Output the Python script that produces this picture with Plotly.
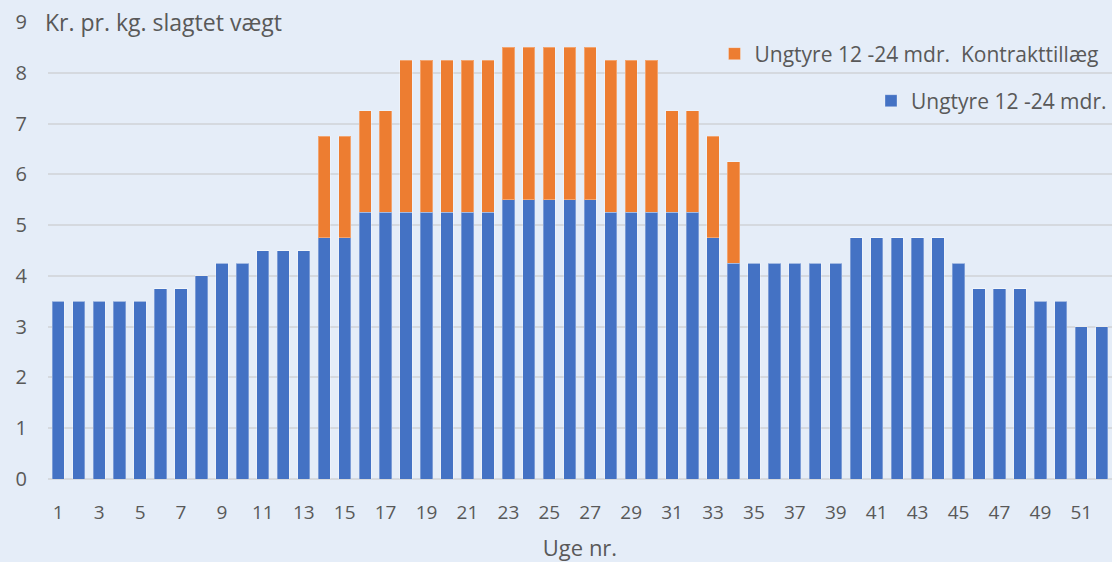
import plotly.graph_objects as go

weeks = list(range(1, 53))
blue_values = [3.5, 3.5, 3.5, 3.5, 3.5, 3.75, 3.75, 4.0, 4.25, 4.25,
               4.5, 4.5, 4.5, 4.75, 4.75, 5.25, 5.25, 5.25, 5.25, 5.25,
               5.25, 5.25, 5.5, 5.5, 5.5, 5.5, 5.5, 5.25, 5.25, 5.25,
               5.25, 5.25, 4.75, 4.25, 4.25, 4.25, 4.25, 4.25, 4.25, 4.75,
               4.75, 4.75, 4.75, 4.75, 4.25, 3.75, 3.75, 3.75, 3.5, 3.5,
               3.0, 3.0]
orange_values = [0, 0, 0, 0, 0, 0, 0, 0, 0, 0,
                 0, 0, 0, 2.0, 2.0, 2.0, 2.0, 3.0, 3.0, 3.0,
                 3.0, 3.0, 3.0, 3.0, 3.0, 3.0, 3.0, 3.0, 3.0, 3.0,
                 2.0, 2.0, 2.0, 2.0, 0, 0, 0, 0, 0, 0,
                 0, 0, 0, 0, 0, 0, 0, 0, 0, 0,
                 0, 0]
x_ticks = list(range(1, 53, 2))
x_tick_labels = [str(v) for v in x_ticks]
y_ticks = list(range(0, 10))

name_blue = "Ungtyre 12 -24 mdr."
name_orange = "Ungtyre 12 -24 mdr.  Kontrakttillæg"
title_text = "Kr. pr. kg. slagtet vægt"
x_title = "Uge nr."

BG = "#E5EDF8"
GRID = "#D5D9DF"
TXT = "#595959"
FONT = "Open Sans"

fig = go.Figure()
fig.add_trace(go.Bar(
    x=weeks, y=blue_values, name=name_blue,
    marker=dict(color="#4472C4", line=dict(color="rgba(255,255,255,0.3)", width=1)),
    legend="legend2",
))
fig.add_trace(go.Bar(
    x=weeks, y=orange_values, name=name_orange,
    marker=dict(color="#ED7D31", line=dict(color="rgba(255,255,255,0.3)", width=1)),
    legend="legend",
))

fig.update_layout(
    width=1112, height=562,
    barmode="stack", bargap=0.4,
    paper_bgcolor=BG, plot_bgcolor=BG,
    margin=dict(l=48, r=0, t=22, b=83),
    font=dict(family=FONT, color=TXT, size=19),
    showlegend=True,
    legend=dict(x=0.992, y=0.93, xanchor="right", yanchor="middle",
                bgcolor="rgba(0,0,0,0)", font=dict(size=21, color=TXT),
                itemwidth=30),
    legend2=dict(x=1.0, y=0.827, xanchor="right", yanchor="middle",
                 bgcolor="rgba(0,0,0,0)", font=dict(size=21, color=TXT),
                 itemwidth=30),
    xaxis=dict(
        range=[0.5, 52.5], tickmode="array", tickvals=x_ticks, ticktext=x_tick_labels,
        showgrid=False, showline=False, zeroline=False, ticks="",
        tickfont=dict(size=19, color=TXT), ticklabelstandoff=20,
        title=dict(text=x_title, font=dict(size=22, color=TXT), standoff=18),
    ),
    yaxis=dict(
        range=[0, 9], tickmode="array", tickvals=y_ticks,
        showgrid=True, gridcolor=GRID, gridwidth=1.5, zeroline=True,
        zerolinecolor=GRID, zerolinewidth=1.5, showline=False, ticks="",
        tickfont=dict(size=20, color=TXT), ticklabelstandoff=20,
    ),
)

fig.add_annotation(
    text=title_text, xref="paper", yref="y", x=-0.006, y=9,
    xanchor="left", yanchor="middle", showarrow=False,
    font=dict(size=23, color=TXT), bgcolor=BG, borderpad=2,
)

fig.write_html("out.html", config={"displayModeBar": False},
               post_script="document.body.style.margin='0';")
